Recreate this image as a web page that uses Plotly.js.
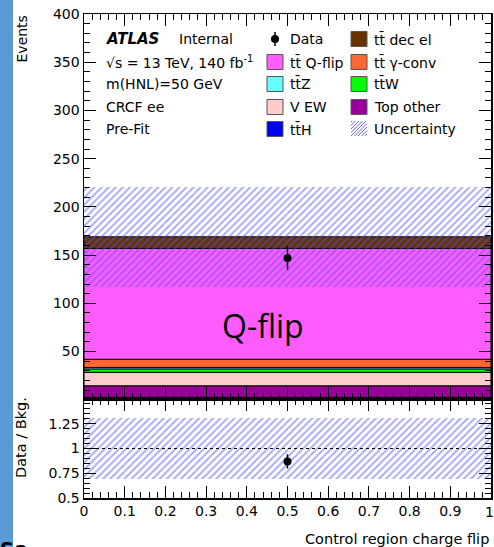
<!DOCTYPE html>
<html><head><meta charset="utf-8">
<script src="https://cdn.plot.ly/plotly-3.0.1.min.js"></script>
<style>html,body{margin:0;padding:0;background:#fff;overflow:hidden}#chart{width:494px;height:547px;}</style>
</head><body><div id="chart"></div>
<script>
// ---- data ----
const binCenters = [0.5];
const binWidths = [1];
const sampleNames = ["tt̄H", "Top other", "V EW", "tt̄W", "tt̄Z", "tt̄ γ-conv", "tt̄ Q-flip", "tt̄ dec el"];
const sampleValues = [2.5, 12, 14, 3.5, 1.5, 8.5, 115, 12];
const sampleColors = ["#0000ff", "#990099", "#ffcccc", "#00ff00", "#66ffff", "#ff6633", "#ff5cff", "#663300"];
const dataValues = [147];
const dataErrors = [12.1];
const bkgUncertainty = [52];
const xTickValues = [0, 0.1, 0.2, 0.3, 0.4, 0.5, 0.6, 0.7, 0.8, 0.9];
const xTickLabels = ["0", "0.1", "0.2", "0.3", "0.4", "0.5", "0.6", "0.7", "0.8", "0.9"];
const xLastLabel = "1";
const ratioTickValues = [0.5, 0.75, 1, 1.25];
const ratioTickLabels = ["0.5", "0.75", "1", "1.25"];

// ---- geometry helpers (decorations only) ----
const W = 494, H = 547, ML = 84, MR = 3, MT = 14, MB = 49;
const PW = W - ML - MR, PH = H - MT - MB;
const px = x => (x - ML) / PW;
const py = y => 1 - (y - MT) / PH;
const splitY = py(399);

const FONT = "DejaVu Sans";
const traces = [];
let cum = 0;
sampleValues.forEach((v, i) => {
  traces.push({
    type: "bar", x: binCenters, width: binWidths, base: [cum], y: [v],
    xaxis: "x", yaxis: "y", name: sampleNames[i], showlegend: false, hoverinfo: "skip",
    marker: { color: sampleColors[i], line: { color: "#000", width: 1 } }
  });
  cum += v;
});
const total = cum;
const hatch = { shape: "/", fgcolor: "#5050ff", bgcolor: "rgba(0,0,0,0)", size: 5, solidity: 0.38, fillmode: "overlay" };
traces.push({
  type: "bar", x: binCenters, width: binWidths, base: [total - bkgUncertainty[0]], y: [2 * bkgUncertainty[0]],
  xaxis: "x", yaxis: "y", showlegend: false, hoverinfo: "skip",
  marker: { color: "rgba(0,0,0,0)", line: { width: 0 }, pattern: hatch }
});
traces.push({
  type: "scatter", mode: "markers", x: binCenters, y: dataValues,
  error_y: { type: "data", array: dataErrors, color: "#000", thickness: 1.5, width: 0 },
  marker: { color: "#000", size: 8 }, xaxis: "x", yaxis: "y", showlegend: false
});
// ratio panel
const relUnc = bkgUncertainty[0] / total;
traces.push({
  type: "bar", x: binCenters, width: binWidths, base: [1 - relUnc], y: [2 * relUnc],
  xaxis: "x2", yaxis: "y2", showlegend: false, hoverinfo: "skip",
  marker: { color: "rgba(0,0,0,0)", line: { width: 0 }, pattern: hatch }
});
traces.push({
  type: "scatter", mode: "markers", x: binCenters, y: dataValues.map(d => d / total),
  error_y: { type: "data", array: dataErrors.map(e => e / total), color: "#000", thickness: 1.5, width: 0 },
  marker: { color: "#000", size: 8 }, xaxis: "x2", yaxis: "y2", showlegend: false
});

const axBase = {
  showline: true, linecolor: "#000", linewidth: 1.5, mirror: "allticks",
  ticks: "inside", tickcolor: "#000", tickwidth: 1, showgrid: false, zeroline: false,
  tickfont: { family: FONT, size: 14, color: "#000" }
};

const shapes = [];
const annotations = [];
// blue strip at left
shapes.push({ type: "rect", xref: "paper", yref: "paper", x0: px(0), x1: px(13), y0: py(H + 2), y1: py(-2),
  fillcolor: "#5b9bd5", line: { width: 0 }, layer: "below" });
// dashed line at ratio 1
shapes.push({ type: "line", xref: "x2", yref: "y2", x0: 0, x1: 1, y0: 1, y1: 1, line: { color: "#000", width: 1, dash: "3px,3px" } });

function txt(x, y, text, opts = {}) {
  annotations.push(Object.assign({ xref: "paper", yref: "paper", x: px(x), y: py(y), text: text, showarrow: false,
    xanchor: "left", yanchor: "middle", font: { family: FONT, size: 14, color: "#000" } }, opts));
}
// ATLAS label block
txt(104, 39, "<b><i>ATLAS</i></b>", { font: { family: FONT, size: 15, color: "#000" } });
txt(177, 39, "Internal");
txt(104, 62, "√s = 13 TeV, 140 fb<sup>-1</sup>");
txt(104, 84, "m(HNL)=50 GeV");
txt(104, 107, "CRCF ee");
txt(104, 129, "Pre-Fit");

// legend
const rows = [39, 62, 84, 107, 129];
const col1 = 267, col2 = 351;
function box(x, y, color) {
  shapes.push({ type: "rect", xref: "paper", yref: "paper", x0: px(x), x1: px(x + 16), y0: py(y + 7.5), y1: py(y - 7.5),
    fillcolor: color, line: { color: "#555", width: 1 } });
}
// Data marker
shapes.push({ type: "line", xref: "paper", yref: "paper", x0: px(275), x1: px(275), y0: py(32), y1: py(46), line: { color: "#000", width: 1.5 } });
shapes.push({ type: "circle", xref: "paper", yref: "paper", x0: px(271), x1: px(279), y0: py(43), y1: py(35), fillcolor: "#000", line: { width: 0 } });
txt(288, rows[0], "Data");
const legOrder = [
  [col2, rows[0], 7], [col1, rows[1], 6], [col2, rows[1], 5], [col1, rows[2], 4],
  [col2, rows[2], 3], [col1, rows[3], 2], [col2, rows[3], 1], [col1, rows[4], 0]
];
legOrder.forEach(([x, y, i]) => { box(x, y, sampleColors[i]); txt(x + 21, y, sampleNames[i]); });
// uncertainty legend hatch
let hp = "";
for (let k = -14; k <= 16; k += 3.5) {
  let x0 = col2 + k, y0 = rows[4] + 7, x1 = col2 + k + 15, y1 = rows[4] - 8;
  if (x0 < col2) { y0 -= (col2 - x0); x0 = col2; }
  if (x1 > col2 + 16) { y1 += (x1 - col2 - 16); x1 = col2 + 16; }
  if (x1 <= x0) continue;
  hp += `M${px(x0)},${py(y0)} L${px(x1)},${py(y1)} `;
}
shapes.push({ type: "path", xref: "paper", yref: "paper", path: hp, line: { color: "#6666ff", width: 1 } });
txt(col2 + 21, rows[4], "Uncertainty");

// Q-flip big text
annotations.push({ xref: "x", yref: "y", x: 0.44, y: 77, text: "Q-flip", showarrow: false, xanchor: "center", yanchor: "middle",
  font: { family: "Open Sans", size: 32, color: "#000" } });
// last x tick label (kept inside the window)
annotations.push({ xref: "paper", yref: "paper", x: px(489), y: py(512), text: xLastLabel, showarrow: false,
  xanchor: "center", yanchor: "middle", font: { family: FONT, size: 14, color: "#000" } });
// axis titles
annotations.push({ xref: "paper", yref: "paper", x: px(21), y: py(14), text: "Events", textangle: -90, showarrow: false,
  xanchor: "center", yanchor: "top", font: { family: FONT, size: 14, color: "#000" } });
annotations.push({ xref: "paper", yref: "paper", x: px(21), y: py(438), text: "Data / Bkg.", textangle: -90, showarrow: false,
  xanchor: "center", yanchor: "middle", font: { family: FONT, size: 14.5, color: "#000" } });
annotations.push({ xref: "paper", yref: "paper", x: px(491), y: py(539), text: "Control region charge flip", showarrow: false,
  xanchor: "right", yanchor: "middle", font: { family: FONT, size: 14.5, color: "#000" } });
// cut-off text fragment bottom-left
annotations.push({ xref: "paper", yref: "paper", x: px(-2), y: py(535), text: "<b>Sa</b>", showarrow: false,
  xanchor: "left", yanchor: "top", font: { family: FONT, size: 20, color: "#000" } });

const layout = {
  width: W, height: H, margin: { l: ML, r: MR, t: MT, b: MB },
  paper_bgcolor: "#fff", plot_bgcolor: "rgba(0,0,0,0)",
  barmode: "overlay", bargap: 0, showlegend: false,
  xaxis: Object.assign({}, axBase, { domain: [0, 1], anchor: "y", range: [0, 1], tickmode: "array", tickvals: xTickValues, ticklen: 12,
    showticklabels: false, minor: { tickmode: "linear", dtick: 0.02, tick0: 0, ticklen: 6, ticks: "inside", tickcolor: "#000" } }),
  yaxis: Object.assign({}, axBase, { domain: [splitY, 1], anchor: "x", range: [0.8, 400], dtick: 50, tick0: 0, ticklen: 12,
    minor: { dtick: 10, tick0: 0, ticklen: 6, ticks: "inside", tickcolor: "#000" } }),
  xaxis2: Object.assign({}, axBase, { domain: [0, 1], anchor: "y2", range: [0, 1], tickmode: "array", tickvals: xTickValues,
    ticktext: xTickLabels, ticklen: 12,
    minor: { tickmode: "linear", dtick: 0.02, tick0: 0, ticklen: 6, ticks: "inside", tickcolor: "#000" }, ticklabelstandoff: 0 }),
  yaxis2: Object.assign({}, axBase, { domain: [0, splitY], anchor: "x2", range: [0.5, 1.5],
    tickmode: "array", tickvals: ratioTickValues, ticktext: ratioTickLabels, ticklen: 12,
    minor: { tickmode: "linear", dtick: 0.05, tick0: 0.5, ticklen: 6, ticks: "inside", tickcolor: "#000" } }),
  shapes: shapes, annotations: annotations
};
Plotly.newPlot("chart", traces, layout, { staticPlot: true, displayModeBar: false });
</script></body></html>
